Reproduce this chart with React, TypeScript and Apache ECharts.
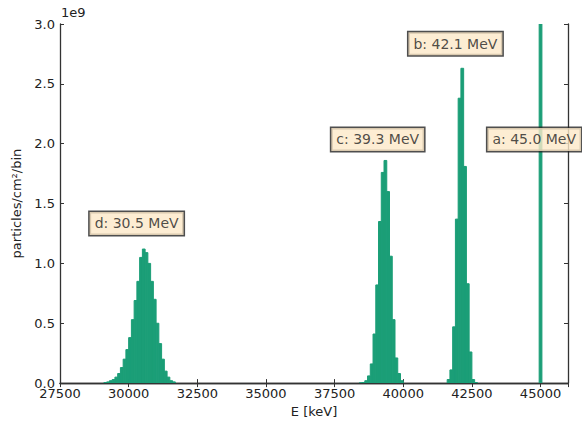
import React, { useEffect, useRef } from "react";
import * as echarts from "echarts";

// Histogram bin width (keV)
const binWidth = 100;

// Peak d (~30.5 MeV): bin start energies and counts (particles/cm²/bin)
const binsD = [29100, 29200, 29300, 29400, 29500, 29600, 29700, 29800, 29900, 30000, 30100, 30200, 30300, 30400, 30500, 30600, 30700, 30800, 30900, 31000, 31100, 31200, 31300, 31400, 31500, 31600];
const valsD = [0.005e9, 0.01e9, 0.02e9, 0.03e9, 0.05e9, 0.08e9, 0.13e9, 0.2e9, 0.28e9, 0.38e9, 0.53e9, 0.69e9, 0.85e9, 1.05e9, 1.12e9, 1.09e9, 1.0e9, 0.85e9, 0.7e9, 0.5e9, 0.33e9, 0.2e9, 0.1e9, 0.05e9, 0.02e9, 0.01e9];

// Peak c (~39.3 MeV)
const binsC = [38400, 38500, 38600, 38700, 38800, 38900, 39000, 39100, 39200, 39300, 39400, 39500, 39600, 39700, 39800, 39900];
const valsC = [0.002e9, 0.005e9, 0.02e9, 0.06e9, 0.16e9, 0.41e9, 0.82e9, 1.35e9, 1.76e9, 1.86e9, 1.6e9, 1.06e9, 0.53e9, 0.21e9, 0.08e9, 0.02e9];

// Peak b (~42.1 MeV)
const binsB = [41600, 41700, 41800, 41900, 42000, 42100, 42200, 42300, 42400, 42500, 42600];
const valsB = [0.03e9, 0.11e9, 0.47e9, 1.37e9, 2.38e9, 2.63e9, 1.81e9, 0.83e9, 0.26e9, 0.03e9, 0.005e9];

// Peak a (45.0 MeV): single very tall bin (clipped at the top)
const binsA = [44950];
const valsA = [8.0e9];

// Annotation labels: text, anchor energy, anchor count
const labelTexts = ["d: 30.5 MeV", "c: 39.3 MeV", "b: 42.1 MeV", "a: 45.0 MeV"];
const labelE = [30290, 39070, 41900, 44770];
const labelY = [1.334e9, 2.036e9, 2.834e9, 2.036e9];

// Axes
const xMin = 27500;
const xMax = 46000;
const xStep = 2500;
const yMin = 0;
const yMax = 3e9;
const yStep = 0.5e9;

const FONT = "DejaVu Sans";
const AXIS_COLOR = "#333333";
const TEXT_COLOR = "#222222";
const BAR_COLOR = "#1b9e77";

function buildBins(starts: number[], vals: number[]) {
  return starts.map((s, i) => [s, s + binWidth, vals[i]]);
}

export default function App() {
  const ref = useRef<HTMLDivElement>(null);

  useEffect(() => {
    if (!ref.current) return;
    const chart = echarts.init(ref.current, null, { renderer: "svg" });

    const histData = [
      ...buildBins(binsD, valsD),
      ...buildBins(binsC, valsC),
      ...buildBins(binsB, valsB),
      ...buildBins(binsA, valsA),
    ];

    const labelData = labelTexts.map((t, i) => ({ value: [labelE[i], labelY[i]], name: t }));

    const axisLineStyle = { color: AXIS_COLOR, width: 1.3 };

    chart.setOption({
      animation: false,
      textStyle: { fontFamily: FONT },
      grid: { left: 60, top: 24, right: 14, bottom: 38, containLabel: false },
      graphic: [
        {
          type: "text",
          left: 61,
          top: 6,
          style: { text: "1e9", font: `13px "${FONT}"`, fill: TEXT_COLOR },
        },
      ],
      xAxis: [
        {
          type: "value",
          min: xMin,
          max: xMax,
          interval: xStep,
          name: "E [keV]",
          nameLocation: "middle",
          nameGap: 16,
          nameTextStyle: { fontFamily: FONT, fontSize: 13, color: TEXT_COLOR },
          axisLine: { show: true, lineStyle: axisLineStyle },
          axisTick: { show: true, inside: true, length: 4, lineStyle: { color: AXIS_COLOR, width: 1 } },
          axisLabel: {
            fontFamily: FONT,
            fontSize: 13,
            color: TEXT_COLOR,
            margin: 4,
            showMaxLabel: false,
            formatter: (v: number) => (v % xStep === 0 ? String(v) : ""),
          },
          splitLine: { show: false },
        },
        {
          type: "value",
          position: "top",
          min: xMin,
          max: xMax,
          interval: xStep,
          axisLine: { show: true, lineStyle: axisLineStyle },
          axisTick: { show: true, inside: true, length: 4, lineStyle: { color: AXIS_COLOR, width: 1 } },
          axisLabel: { show: false },
          splitLine: { show: false },
        },
      ],
      yAxis: [
        {
          type: "value",
          min: yMin,
          max: yMax,
          interval: yStep,
          name: "particles/cm²/bin",
          nameLocation: "middle",
          nameRotate: 90,
          nameGap: 30,
          nameTextStyle: { fontFamily: FONT, fontSize: 13, color: TEXT_COLOR },
          axisLine: { show: true, lineStyle: axisLineStyle },
          axisTick: { show: true, inside: true, length: 4, lineStyle: { color: AXIS_COLOR, width: 1 } },
          axisLabel: {
            fontFamily: FONT,
            fontSize: 13,
            color: TEXT_COLOR,
            margin: 5,
            formatter: (v: number) => (v / 1e9).toFixed(1),
          },
          splitLine: { show: false },
        },
        {
          type: "value",
          position: "right",
          min: yMin,
          max: yMax,
          interval: yStep,
          axisLine: { show: true, lineStyle: axisLineStyle },
          axisTick: { show: true, inside: true, length: 4, lineStyle: { color: AXIS_COLOR, width: 1 } },
          axisLabel: { show: false },
          splitLine: { show: false },
        },
      ],
      series: [
        {
          type: "custom",
          xAxisIndex: 0,
          yAxisIndex: 0,
          data: histData,
          encode: { x: [0, 1], y: 2 },
          clip: true,
          renderItem: (params: any, api: any) => {
            const p0 = api.coord([api.value(0), 0]);
            const p1 = api.coord([api.value(1), api.value(2)]);
            const rect = echarts.graphic.clipRectByRect(
              { x: p0[0], y: p1[1], width: p1[0] - p0[0], height: p0[1] - p1[1] },
              {
                x: params.coordSys.x,
                y: params.coordSys.y,
                width: params.coordSys.width,
                height: params.coordSys.height,
              }
            );
            if (!rect) return null;
            return {
              type: "rect",
              shape: rect,
              style: { fill: BAR_COLOR, stroke: BAR_COLOR, lineWidth: 1 },
            };
          },
          z: 2,
        },
        {
          type: "scatter",
          xAxisIndex: 0,
          yAxisIndex: 0,
          data: labelData,
          symbolSize: 0,
          clip: false,
          silent: true,
          z: 5,
          label: {
            show: true,
            position: "inside",
            formatter: (p: any) => p.name,
            fontFamily: FONT,
            fontSize: 14,
            color: TEXT_COLOR,
            backgroundColor: "#fde9c8",
            borderColor: "#222222",
            borderWidth: 1.5,
            padding: [5, 5, 4, 5],
          },
        },
      ],
    });

    return () => chart.dispose();
  }, []);

  return (
    <div
      ref={ref}
      style={{ position: "fixed", left: 0, top: 0, width: 582, height: 423, background: "#ffffff" }}
    />
  );
}
